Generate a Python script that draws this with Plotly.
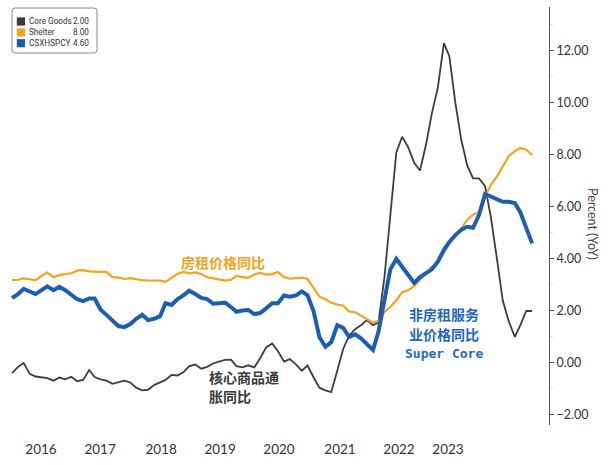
import plotly.graph_objects as go
import pandas as pd

# ---------------- data (monthly, Jan 2016 - May 2023) ----------------
dates = pd.date_range("2016-01-01", "2023-05-01", freq="MS")

core_goods = [
    -0.39, -0.15, 0.00, -0.42, -0.52, -0.56, -0.58, -0.68, -0.56, -0.63, -0.53, -0.70,
    -0.65, -0.27, -0.54, -0.63, -0.68, -0.80, -0.75, -0.68, -0.75, -0.95, -1.05, -1.03,
    -0.85, -0.75, -0.65, -0.46, -0.48, -0.36, -0.12, -0.06, -0.22, -0.15, -0.02, 0.05,
    0.12, 0.13, -0.12, -0.17, -0.09, -0.17, 0.18, 0.60, 0.75, 0.45, 0.05, 0.15,
    -0.05, -0.30, -0.10, -0.55, -0.95, -1.05, -1.12, -0.30, 0.55, 1.05, 1.30, 1.45,
    1.65, 1.45, 1.55, 3.30, 5.60, 8.10, 8.70, 8.30, 7.70, 7.40, 8.40, 9.60,
    10.60, 12.30, 11.80, 10.00, 8.60, 7.60, 7.10, 7.10, 6.80, 5.60, 4.00, 2.40,
    1.60, 1.00, 1.45, 2.00, 2.00,
]

shelter = [
    3.19, 3.20, 3.25, 3.20, 3.18, 3.35, 3.48, 3.30, 3.38, 3.42, 3.45, 3.55,
    3.57, 3.52, 3.50, 3.50, 3.50, 3.30, 3.28, 3.23, 3.26, 3.22, 3.19, 3.18,
    3.17, 3.17, 3.12, 3.28, 3.42, 3.50, 3.45, 3.48, 3.42, 3.30, 3.25, 3.20,
    3.17, 3.20, 3.35, 3.30, 3.27, 3.40, 3.46, 3.40, 3.42, 3.50, 3.30, 3.24,
    3.26, 3.28, 3.23, 2.90, 2.55, 2.45, 2.32, 2.25, 2.20, 1.98, 1.95, 1.82,
    1.68, 1.55, 1.62, 1.95, 2.15, 2.40, 2.72, 2.80, 2.95, 3.20, 3.45, 3.70,
    3.85, 4.25, 4.60, 4.85, 5.15, 5.50, 5.70, 5.80, 6.40, 6.85, 7.17, 7.55,
    7.95, 8.15, 8.27, 8.20, 8.00,
]

supercore = [
    2.50, 2.65, 2.85, 2.75, 2.65, 2.80, 2.95, 2.80, 2.93, 2.80, 2.60, 2.45,
    2.38, 2.48, 2.48, 2.05, 1.85, 1.65, 1.42, 1.38, 1.50, 1.70, 1.85, 1.65,
    1.70, 1.80, 2.30, 2.23, 2.45, 2.60, 2.78, 2.65, 2.50, 2.46, 2.28, 2.30,
    2.32, 2.15, 1.97, 2.02, 2.04, 1.88, 1.92, 2.10, 2.30, 2.30, 2.60, 2.55,
    2.60, 2.75, 2.60, 2.00, 1.00, 0.62, 0.80, 1.45, 1.35, 1.00, 1.10, 0.95,
    0.72, 0.50, 1.20, 2.50, 3.60, 4.00, 3.70, 3.35, 3.08, 3.30, 3.45, 3.60,
    3.90, 4.35, 4.65, 4.92, 5.12, 5.24, 5.20, 5.70, 6.50, 6.40, 6.30, 6.20,
    6.20, 6.15, 5.80, 5.20, 4.60,
]

series_names = ["Core Goods", "Shelter", "CSXHSPCY"]
series_values = [core_goods, shelter, supercore]

year_labels = ["2016", "2017", "2018", "2019", "2020", "2021", "2022", "2023"]
year_label_dates = ["2016-05-29", "2017-03-29", "2018-02-06", "2018-12-07",
                    "2019-10-06", "2020-08-15", "2021-06-15", "2022-02-22"]

y_title = "Percent (YoY)"
label_shelter = "房租价格同比"
label_core = ["核心商品通", "胀同比"]
label_super = ["非房租服务", "业价格同比", "Super Core"]

# ---------------- styling ----------------
colors = ["#3d3d3d", "#f5a31e", "#1c5eb3"]
widths = [1.8, 2.2, 4.0]

W, H = 613, 465
ML, MR, MT, MB = 0, 64, 7, 40
PW, PH = W - ML - MR, H - MT - MB


def px(x):
    return (x - ML) / PW


def py(y):
    return (H - MB - y) / PH


fig = go.Figure()
for name, vals, c, w in zip(series_names, series_values, colors, widths):
    fig.add_trace(go.Scatter(x=dates, y=vals, mode="lines", name=name,
                             line=dict(color=c, width=w), showlegend=False))

shapes = []
annotations = []


def note(x, y, text, font, xanchor="center", **kw):
    annotations.append(dict(xref="paper", yref="paper", x=px(x), y=py(y), text=text,
                            showarrow=False, xanchor=xanchor, yanchor="middle",
                            font=font, **kw))


# custom legend box (rounded)
x0, x1, y0, y1, r = px(12), px(97), py(8), py(53), 3
rx, ry = r / PW, r / PH
path = (f"M {x0+rx},{y0} L {x1-rx},{y0} Q {x1},{y0} {x1},{y0-ry} "
        f"L {x1},{y1+ry} Q {x1},{y1} {x1-rx},{y1} L {x0+rx},{y1} "
        f"Q {x0},{y1} {x0},{y1+ry} L {x0},{y0-ry} Q {x0},{y0} {x0+rx},{y0} Z")
shapes.append(dict(type="path", xref="paper", yref="paper", path=path,
                   line=dict(color="#8a8a8a", width=1), fillcolor="white"))
legend_font = dict(family="Roboto", size=8.2, color="#333")
row_y = [21.5, 32.5, 43.2]
for name, vals, c, yy in zip(series_names, series_values, colors, row_y):
    shapes.append(dict(type="rect", xref="paper", yref="paper",
                       x0=px(16.8), x1=px(25), y0=py(yy - 4.1), y1=py(yy + 4.1),
                       fillcolor=c, line=dict(width=0)))
    note(26.5, yy, name, legend_font, xanchor="left")
    note(91, yy, f"{vals[-1]:.2f}", legend_font, xanchor="right")

# y-axis title (reads top-to-bottom)
note(593, 224, y_title, dict(family="Lato", size=12.5, color="#444"), textangle=90)

cjk = "Noto Sans CJK SC"
note(223, 262, f"<b>{label_shelter}</b>", dict(family=cjk, size=14, color="#f0a21e"))
for i, t in enumerate(label_core):
    note(208, 376.5 + 19 * i, t, dict(family=cjk, size=14, color="#3a3a3a", weight=600),
         xanchor="left", borderpad=0)
for i, t in enumerate(label_super):
    fam = cjk if i < 2 else "DejaVu Sans Mono"
    size = 14 if i < 2 else 13
    note(443.5, 313.5 + 20 * i, f"<b>{t}</b>", dict(family=fam, size=size, color="#1f68bf"),
         borderpad=0)

fig.update_layout(
    width=W, height=H,
    margin=dict(l=ML, r=MR, t=MT, b=MB, autoexpand=False),
    paper_bgcolor="white", plot_bgcolor="white",
    hovermode=False,
    shapes=shapes, annotations=annotations,
    xaxis=dict(type="date", range=["2015-10-31", "2023-07-27"], automargin=False,
               showgrid=False, zeroline=False, showline=False, ticks="",
               tickmode="array", tickvals=year_label_dates, ticktext=year_labels,
               ticklabelstandoff=14,
               tickfont=dict(family="Lato", size=13.5, color="#333")),
    yaxis=dict(side="right", range=[-2.385, 13.69], automargin=False,
               showgrid=False, zeroline=False,
               showline=True, linecolor="#555", linewidth=1,
               ticks="outside", ticklen=4, tickcolor="#555",
               tick0=0, dtick=2, tickformat=".2f",
               minor=dict(ticks="outside", ticklen=3, tickcolor="#dddddd", dtick=1),
               tickfont=dict(family="Lato", size=12.5, color="#333")),
)

fig.write_html("out.html",
               config={"displayModeBar": False, "staticPlot": True},
               post_script="document.body.style.margin='0px';"
                           "document.documentElement.style.overflow='hidden';")
